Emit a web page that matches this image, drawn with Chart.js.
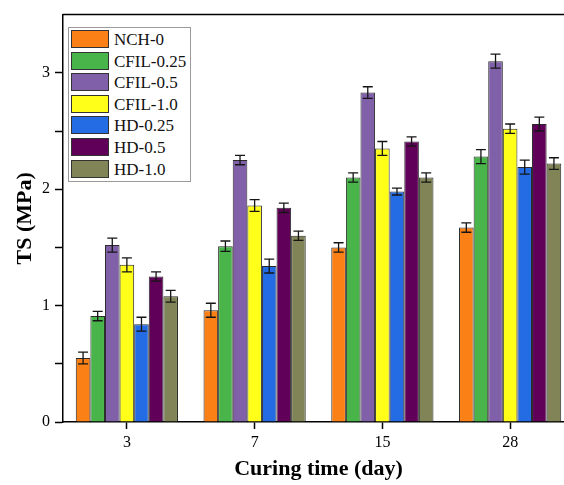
<!DOCTYPE html>
<html>
<head>
<meta charset="utf-8">
<script src="https://cdn.jsdelivr.net/npm/chart.js@4/dist/chart.umd.min.js"></script>
<style>
    html, body {
        margin: 0;
        padding: 0;
        background: #fff;
        overflow: hidden;
    }

    #wrap {
        position: relative;
        width: 564px;
        height: 485px;
        overflow: hidden;
    }

    #chart-box {
        position: absolute;
        left: 0;
        top: 0;
        width: 576px;
        height: 485px;
    }

    #legend {
        position: absolute;
        left: 68px;
        top: 27px;
        width: 121px;
        height: 153px;
        border: 1px solid #9a9a9a;
        background: #fff;
        font-family: "Liberation Serif", "Times New Roman", serif;
        font-size: 17px;
        color: #111;
    }

    .legend-item {
        position: absolute;
        left: 2px;
        height: 19px;
        line-height: 19px;
        white-space: nowrap;
    }

    .legend-item span.swatch {
        position: absolute;
        left: 0;
        top: 0;
        width: 36px;
        height: 16px;
        border: 1.5px solid #333;
    }

    .legend-item span.label {
        position: absolute;
        left: 43px;
        top: 0;
    }
</style>
</head>
<body>
<div id="wrap">
    <div id="chart-box"><canvas id="ts-chart" width="576" height="485"></canvas></div>
    <div id="legend"></div>
</div>

<script>
// ------------------------
// DATA
// ------------------------

const curingDays = ["3", "7", "15", "28"];

const seriesNames = ["NCH-0", "CFIL-0.25", "CFIL-0.5", "CFIL-1.0", "HD-0.25", "HD-0.5", "HD-1.0"];
const seriesColors = ["#FB8016", "#48B44A", "#8060A9", "#FFFF1A", "#236CE3", "#600058", "#808456"];

// tensile strength (MPa)
const nch0 = [0.55, 0.96, 1.50, 1.67];
const cfil025 = [0.91, 1.51, 2.10, 2.28];
const cfil05 = [1.52, 2.25, 2.83, 3.10];
const cfil10 = [1.35, 1.86, 2.35, 2.52];
const hd025 = [0.84, 1.34, 1.98, 2.19];
const hd05 = [1.25, 1.84, 2.41, 2.56];
const hd10 = [1.08, 1.60, 2.10, 2.22];

// standard deviation
const nch0Err = [0.05, 0.06, 0.04, 0.04];
const cfil025Err = [0.04, 0.045, 0.04, 0.06];
const cfil05Err = [0.06, 0.04, 0.05, 0.06];
const cfil10Err = [0.06, 0.05, 0.06, 0.04];
const hd025Err = [0.06, 0.06, 0.03, 0.06];
const hd05Err = [0.04, 0.04, 0.04, 0.06];
const hd10Err = [0.05, 0.04, 0.04, 0.05];

const seriesValues = [nch0, cfil025, cfil05, cfil10, hd025, hd05, hd10];
const seriesErrors = [nch0Err, cfil025Err, cfil05Err, cfil10Err, hd025Err, hd05Err, hd10Err];

const yTicks = [0, 1, 2, 3];

const serif = "'Liberation Serif', 'Times New Roman', serif";

// ------------------------
// PLUGINS
// ------------------------

// whiskers on top of every bar
const errorBars = {
    id: "errorBars",
    afterDatasetsDraw(chart) {
        const ctx = chart.ctx;
        const y = chart.scales.y;

        ctx.save();
        ctx.strokeStyle = "#151515";
        ctx.lineWidth = 1.3;

        chart.data.datasets.forEach((ds, i) => {
            const meta = chart.getDatasetMeta(i);
            meta.data.forEach((bar, j) => {
                const v = ds.data[j];
                const e = ds.errors[j];
                const top = y.getPixelForValue(v + e);
                const bot = y.getPixelForValue(v - e);
                const x = bar.x;

                ctx.beginPath();
                ctx.moveTo(x, top);
                ctx.lineTo(x, bot);
                ctx.moveTo(x - 5, top);
                ctx.lineTo(x + 5, top);
                ctx.moveTo(x - 5, bot);
                ctx.lineTo(x + 5, bot);
                ctx.stroke();
            });
        });

        ctx.restore();
    }
};

// closing line along the top of the plot
const topFrame = {
    id: "topFrame",
    afterDraw(chart) {
        const { ctx, chartArea } = chart;
        ctx.save();
        ctx.strokeStyle = "#000";
        ctx.lineWidth = 1.5;
        ctx.beginPath();
        ctx.moveTo(chartArea.left, chartArea.top);
        ctx.lineTo(chartArea.right + 2, chartArea.top);
        ctx.stroke();
        ctx.restore();
    }
};

const whiteBackground = {
    id: "whiteBackground",
    beforeDraw(chart) {
        const ctx = chart.ctx;
        ctx.save();
        ctx.fillStyle = "#fff";
        ctx.fillRect(0, 0, chart.width, chart.height);
        ctx.restore();
    }
};

// ------------------------
// CHART
// ------------------------

function renderChart() {

    const datasets = seriesNames.map((name, i) => ({
        label: name,
        data: seriesValues[i],
        errors: seriesErrors[i],
        backgroundColor: seriesColors[i],
        borderColor: "#2a2a2a",
        borderWidth: 1,
        barPercentage: 1,
        categoryPercentage: 0.8
    }));

    new Chart(document.getElementById("ts-chart"), {

        type: "bar",

        data: {
            labels: curingDays,
            datasets
        },

        options: {
            responsive: false,
            animation: false,
            devicePixelRatio: 1,
            layout: { padding: { top: 12, right: 2, left: 0, bottom: 0 } },
            plugins: {
                legend: { display: false },
                tooltip: { enabled: false }
            },
            scales: {
                x: {
                    offset: true,
                    grid: {
                        offset: false,
                        drawOnChartArea: false,
                        tickLength: 7,
                        tickWidth: 1.5,
                        tickColor: "#000"
                    },
                    border: { color: "#000", width: 1.5 },
                    ticks: {
                        color: "#000",
                        padding: 4,
                        font: { family: serif, size: 16 }
                    },
                    title: {
                        display: true,
                        text: "Curing time (day)",
                        color: "#000",
                        padding: { top: 0, bottom: 2 },
                        font: { family: serif, size: 22, weight: "bold" }
                    },
                    afterFit(s) { s.height = 63; }
                },
                y: {
                    min: 0,
                    max: 3.5,
                    ticks: {
                        stepSize: 0.5,
                        color: "#000",
                        padding: 5,
                        font: { family: serif, size: 16 },
                        callback: v => yTicks.includes(v) ? String(v) : ""
                    },
                    afterBuildTicks(s) {
                        s.ticks = s.ticks.filter(t => t.value <= 3.01);
                    },
                    grid: {
                        drawOnChartArea: false,
                        tickLength: 8,
                        tickWidth: 1.5,
                        tickColor: "#000"
                    },
                    border: { color: "#000", width: 1.5 },
                    title: {
                        display: true,
                        text: "TS (MPa)",
                        color: "#000",
                        padding: { top: 12, bottom: 0 },
                        font: { family: serif, size: 22, weight: "bold" }
                    },
                    afterFit(s) { s.width = 63; }
                }
            }
        },

        plugins: [whiteBackground, errorBars, topFrame]
    });
}

// ------------------------
// LEGEND
// ------------------------

function renderLegend() {
    const el = document.getElementById("legend");

    el.innerHTML = seriesNames.map((name, i) => `
        <div class="legend-item" style="top:${2 + i * 21.6}px">
            <span class="swatch" style="background:${seriesColors[i]}"></span>
            <span class="label">${name}</span>
        </div>
    `).join("");
}

renderChart();
renderLegend();
</script>
</body>
</html>
